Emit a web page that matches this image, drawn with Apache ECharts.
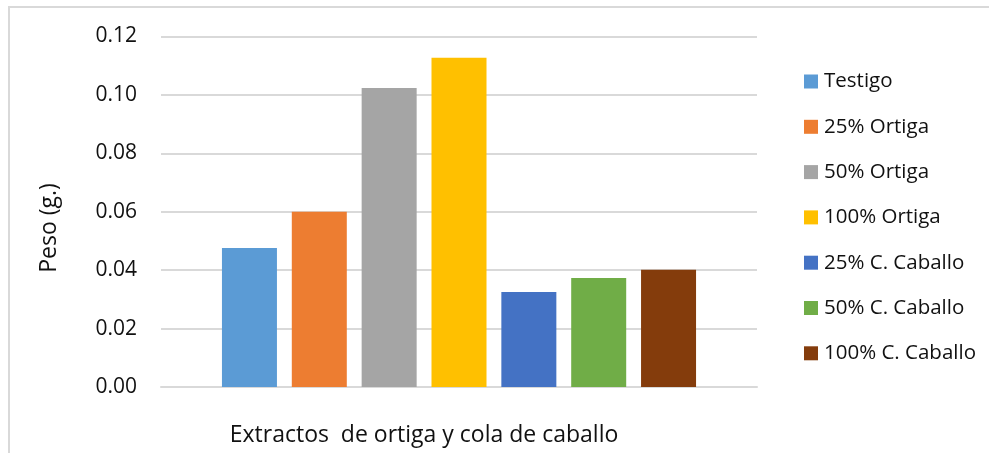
<!DOCTYPE html>
<html>
<head>
<meta charset="utf-8">
<script src="https://cdn.jsdelivr.net/npm/echarts@6/dist/echarts.min.js"></script>
<style>
  html, body { margin: 0; padding: 0; background: #fff; }
  #chart { width: 989px; height: 453px; }
</style>
</head>
<body>
<div id="chart"></div>
<script>
// Weight of plants by extract treatment
const categories = [''];
const seriesNames = ['Testigo', '25% Ortiga', '50% Ortiga', '100% Ortiga',
                     '25% C. Caballo', '50% C. Caballo', '100% C. Caballo'];
const values = [0.0476, 0.0600, 0.1024, 0.1127, 0.0325, 0.0373, 0.0401];
const colors = ['#5B9BD5', '#ED7D31', '#A5A5A5', '#FFC000', '#4472C4', '#70AD47', '#843C0C'];
const yTicks = [0, 0.12, 0.02]; // min, max, interval

const FONT = '"Open Sans", sans-serif';
const TEXT = '#111';

const chart = echarts.init(document.getElementById('chart'), null, { renderer: 'canvas' });

chart.setOption({
  animation: false,
  backgroundColor: '#fff',
  textStyle: { fontFamily: FONT, color: TEXT },
  grid: { left: 161, right: 232, top: 36.5, bottom: 66 },
  legend: {
    orient: 'vertical',
    left: 799,
    top: 66,
    itemWidth: 14,
    itemHeight: 14,
    itemGap: 24.3,
    icon: 'rect',
    textStyle: { fontFamily: FONT, fontSize: 20.5, color: TEXT, lineHeight: 20, padding: [0, 0, 0, 1] },
    data: seriesNames
  },
  xAxis: {
    type: 'category',
    data: categories,
    axisLine: { show: true, lineStyle: { color: '#d9d9d9', width: 2 } },
    axisTick: { show: false },
    axisLabel: { show: false }
  },
  yAxis: {
    type: 'value',
    min: yTicks[0],
    max: yTicks[1],
    interval: yTicks[2],
    axisLine: { show: false },
    axisTick: { show: false },
    splitLine: { lineStyle: { color: '#d9d9d9', width: 2 } },
    axisLabel: {
      margin: 24,
      fontFamily: FONT,
      fontSize: 21,
      color: TEXT,
      formatter: v => v.toFixed(2)
    }
  },
  series: seriesNames.map((name, i) => ({
    name: name,
    type: 'bar',
    data: [values[i]],
    barWidth: 55,
    barGap: '27%',
    itemStyle: { color: colors[i] }
  })),
  graphic: [
    {
      type: 'rect',
      shape: { x: 9, y: 7, width: 1000, height: 500 },
      style: { fill: 'none', stroke: '#d9d9d9', lineWidth: 2 },
      silent: true
    },
    {
      type: 'text',
      x: 49, y: 228,
      rotation: Math.PI / 2,
      style: {
        text: 'Peso (g.)',
        font: '23px ' + FONT,
        fill: TEXT,
        align: 'center',
        verticalAlign: 'middle'
      }
    },
    {
      type: 'text',
      x: 424, y: 435,
      style: {
        text: 'Extractos  de ortiga y cola de caballo',
        font: '23px ' + FONT,
        fill: TEXT,
        align: 'center',
        verticalAlign: 'middle'
      }
    }
  ]
});
</script>
</body>
</html>
